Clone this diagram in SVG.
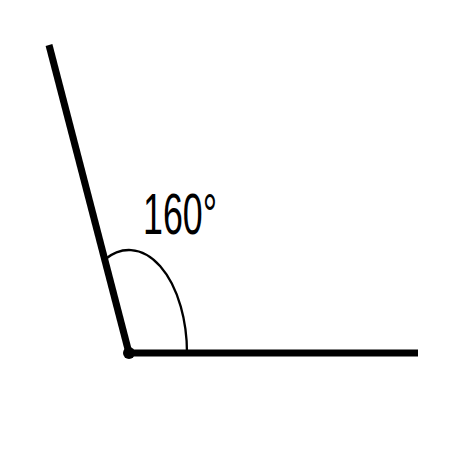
<svg xmlns="http://www.w3.org/2000/svg" width="450" height="450" viewBox="0 0 450 450">
<style>
.ray{stroke:#000;stroke-width:7;fill:none}
.arc{stroke:#000;stroke-width:2.3;fill:none}
.lbl{font-family:"Liberation Sans",Arial,sans-serif;font-size:57px;fill:#000}
</style>
<rect width="450" height="450" fill="#fff"/>
<g id="connectors">
<line class="ray" x1="129" y1="353" x2="418" y2="353"/>
<line class="ray" x1="129" y1="353" x2="49" y2="45"/>
<path class="arc" d="M187,353 A58,103 0 0 0 104.7,259.5"/>
</g>
<g id="vertex">
<circle cx="129" cy="353" r="6" fill="#000"/>
</g>
<g id="label">
<text class="lbl" x="143" y="233.5" textLength="74" lengthAdjust="spacingAndGlyphs">160°</text>
</g>
</svg>
